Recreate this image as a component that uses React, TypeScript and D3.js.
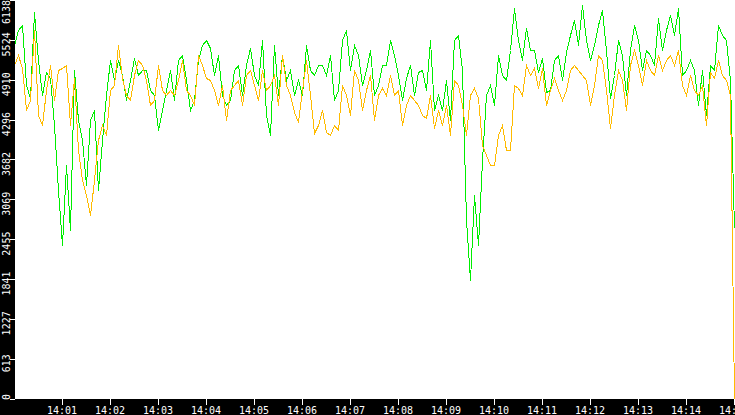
import { useEffect, useRef } from "react";
import * as d3 from "d3";

// one sample every 5 seconds, 14:00:00 .. 14:15:00
const startTime = new Date(2024, 0, 1, 14, 0, 0);
const endTime = new Date(2024, 0, 1, 14, 15, 0);
const stepSeconds = 5;
const yMax = 6138;

const greenValues = [
  5445, 5676, 5753, 4829, 4629, 5953, 5214, 4675, 5029, 4937,
  4213, 3212, 2365, 3597, 2596, 5060, 4290, 3982, 3289, 4290,
  4444, 3212, 3982, 4675, 5214, 4906, 5214, 4983, 4598, 4906,
  5245, 4983, 5060, 5060, 4752, 4675, 4136, 4444, 4752, 5060,
  4598, 5214, 5291, 4906, 4444, 4598, 5214, 5445, 5522, 5399,
  4983, 5291, 4675, 4521, 4598, 5060, 5137, 4675, 5137, 5399,
  4983, 4829, 5522, 4367, 4059, 5445, 4675, 5291, 4906, 5060,
  4675, 4906, 4675, 5445, 5060, 4983, 5137, 5137, 4983, 5291,
  4598, 4752, 5522, 5676, 5060, 5445, 5291, 4829, 5060, 5368,
  4675, 4829, 5137, 5137, 5522, 5291, 4983, 4598, 4937, 5137,
  4675, 5029, 5060, 4752, 5522, 4444, 4675, 4444, 4906, 4290,
  5522, 5599, 5060, 2750, 1826, 3135, 2365, 3674, 4675, 4829,
  4521, 5291, 4983, 4906, 5368, 6015, 5522, 5214, 5707, 5368,
  5368, 5029, 5245, 4721, 4752, 5214, 5291, 4906, 5337, 5599,
  5830, 5445, 6061, 5522, 5214, 5445, 5753, 5984, 5368, 4629,
  4983, 5522, 5291, 4675, 5368, 5753, 5522, 5060, 5368, 5291,
  5137, 5861, 5368, 5676, 5907, 5599, 6015, 4983, 5060, 5214,
  5060, 4521, 5060, 4367, 5137, 5060, 5753, 5599, 5522, 4906,
  2627,
];

const orangeValues = [
  5137, 5291, 5091, 4444, 4598, 5676, 4367, 4213, 4752, 5137,
  4598, 5060, 5091, 5137, 4213, 4937, 3828, 3366, 3135, 2827,
  3366, 3982, 4213, 4059, 4752, 4829, 5445, 4937, 4675, 4598,
  4983, 5214, 5137, 4906, 4521, 4598, 5137, 4752, 4675, 4752,
  4675, 4906, 5214, 4752, 4675, 4521, 5291, 5137, 4937, 4906,
  4752, 4521, 4829, 4290, 4752, 4829, 4906, 4521, 4983, 5060,
  4829, 4598, 5060, 4752, 4829, 4983, 4521, 5291, 4829, 4675,
  4413, 4259, 4752, 5214, 4675, 4090, 4213, 4444, 4105, 4059,
  4213, 4136, 4829, 4675, 4367, 5060, 4906, 4444, 4752, 4983,
  4290, 4675, 4783, 4675, 4983, 4675, 4752, 4213, 4521, 4675,
  4598, 4521, 4367, 4321, 4675, 4167, 4444, 4213, 4521, 4059,
  4906, 4829, 4521, 4059, 4675, 4783, 4629, 3905, 3751, 3597,
  3597, 4059, 4213, 3828, 3828, 4829, 4783, 4675, 5137, 4983,
  5091, 4783, 5091, 4521, 4752, 4937, 4752, 4598, 4752, 5060,
  5137, 5060, 4983, 4906, 4521, 4829, 5291, 5214, 4752, 4167,
  4675, 5060, 4906, 4444, 5137, 5368, 5137, 4829, 5214, 5060,
  4983, 5291, 5060, 5214, 5291, 5137, 5368, 4829, 4675, 4983,
  4752, 4675, 4829, 4213, 5029, 4937, 5214, 4983, 4906, 4675,
  0,
];

const yTickValues = d3.range(0, 11).map((i) => Math.floor((i * yMax) / 10));

export default function App() {
  const svgRef = useRef<SVGSVGElement>(null);

  useEffect(() => {
    if (!svgRef.current) return;

    const width = 735;
    const height = 415;
    const left = 15;
    const bottom = 398.5;

    document.body.style.margin = "0";

    const svg = d3.select(svgRef.current);
    svg.selectAll("*").remove();
    svg.attr("width", width).attr("height", height);

    const x = d3.scaleTime().domain([startTime, endTime]).range([14, 734]);
    const y = d3.scaleLinear().domain([0, yMax]).range([bottom, 0]);

    const toSeries = (vals: number[]) =>
      vals.map((v, i) => ({
        t: new Date(startTime.getTime() + i * stepSeconds * 1000),
        v,
      }));

    svg
      .append("rect")
      .attr("width", width)
      .attr("height", height)
      .attr("fill", "#000");

    svg
      .append("rect")
      .attr("x", left)
      .attr("y", 0)
      .attr("width", width - left)
      .attr("height", bottom + 0.5)
      .attr("fill", "#fff");

    svg
      .append("clipPath")
      .attr("id", "plot-clip")
      .append("rect")
      .attr("x", left)
      .attr("y", 0)
      .attr("width", width - left)
      .attr("height", bottom + 1);

    const line = d3
      .line<{ t: Date; v: number }>()
      .x((d) => Math.round(x(d.t)) + 0.5)
      .y((d) => Math.round(y(d.v)) + 0.5);

    const g = svg.append("g").attr("clip-path", "url(#plot-clip)");

    g.append("path")
      .datum(toSeries(greenValues))
      .attr("d", line)
      .attr("fill", "none")
      .attr("stroke", "#00ee00")
      .attr("stroke-width", 1)
      .attr("shape-rendering", "crispEdges");

    g.append("path")
      .datum(toSeries(orangeValues))
      .attr("d", line)
      .attr("fill", "none")
      .attr("stroke", "#ffbb00")
      .attr("stroke-width", 1)
      .attr("shape-rendering", "crispEdges");

    const font = "'DejaVu Sans Mono', monospace";

    // x axis
    const xTicks = x.ticks(d3.timeMinute.every(1)!).slice(1);
    const fmt = d3.timeFormat("%H:%M");
    const xg = svg.append("g");
    xg.selectAll("line")
      .data(xTicks)
      .enter()
      .append("line")
      .attr("x1", (d) => Math.round(x(d)) + 0.5)
      .attr("x2", (d) => Math.round(x(d)) + 0.5)
      .attr("y1", 399)
      .attr("y2", 405)
      .attr("stroke", "#fff")
      .attr("shape-rendering", "crispEdges");
    xg.selectAll("text")
      .data(xTicks)
      .enter()
      .append("text")
      .attr("x", (d) => x(d))
      .attr("y", 414)
      .attr("text-anchor", "middle")
      .attr("fill", "#fff")
      .attr("font-family", font)
      .attr("font-size", 10)
      .text((d) => fmt(d));

    // y axis
    const yg = svg.append("g");
    yg.selectAll("line")
      .data(yTickValues)
      .enter()
      .append("line")
      .attr("x1", 10)
      .attr("x2", left)
      .attr("y1", (d) => Math.round(y(d)) + 0.5)
      .attr("y2", (d) => Math.round(y(d)) + 0.5)
      .attr("stroke", "#fff")
      .attr("shape-rendering", "crispEdges");
    yg.selectAll("text")
      .data(yTickValues)
      .enter()
      .append("text")
      .attr("transform", (d) => {
        const half = String(d).length * 3;
        const cy = Math.min(Math.max(y(d) + 4.5, half), 400 - half);
        return `translate(10,${cy}) rotate(-90)`;
      })
      .attr("text-anchor", "middle")
      .attr("fill", "#fff")
      .attr("font-family", font)
      .attr("font-size", 10)
      .text((d) => String(d));
  }, []);

  return (
    <svg
      ref={svgRef}
      style={{ position: "absolute", left: 0, top: 0, display: "block" }}
    />
  );
}
